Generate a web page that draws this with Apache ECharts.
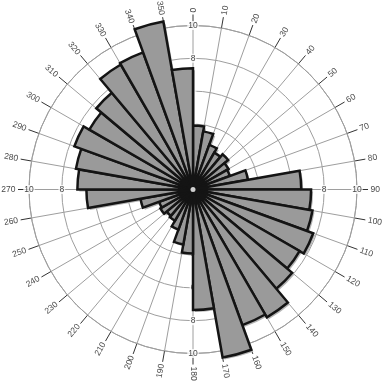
<!DOCTYPE html>
<html><head><meta charset="utf-8">
<script src="https://cdn.jsdelivr.net/npm/echarts@6/dist/echarts.min.js"></script>
<style>html,body{margin:0;padding:0;background:#fff}#c{width:384px;height:384px}</style>
</head><body><div id="c"></div>
<script>
// sector start bearings (degrees, clockwise from north), each sector is 10 degrees wide
const sectorStarts = [0,10,20,30,40,50,60,70,80,90,100,110,120,130,140,150,160,170,180,190,200,210,220,230,240,250,260,270,280,290,300,310,320,330,340,350];
const sectorValues = [3.9,3.6,2.9,2.6,2.8,2.5,2.4,3.4,6.6, 7.2,7.4,7.8,7.5,7.9,9.0,8.8,10.4,7.35, 3.9,3.4,2.6,2.2,2.1,2.3,2.2,3.25,6.5, 7.05,7.25,7.7,7.3,7.7,8.8,8.9,10.4,7.4];
const angleTickValues = [0,10,20,30,40,50,60,70,80,90,100,110,120,130,140,150,160,170,180,190,200,210,220,230,240,250,260,270,280,290,300,310,320,330,340,350];
const angleTickLabels = ['0','10','20','30','40','50','60','70','80','90','100','110','120','130','140','150','160','170','180','190','200','210','220','230','240','250','260','270','280','290','300','310','320','330','340','350'];
const ringValues = [2,4,6,8,10];
const ringLabelAngles = [0,90,180,270];
const angleLabelRadius = 10.8;

const FONT = "'Liberation Sans', Arial, sans-serif";
const C = [193, 189.5], R = 164;
const GRID = '#9e9e9e';

const angleLabelData = angleTickValues.map(function (a, i) {
  const right = a <= 180;
  return {
    name: angleTickLabels[i],
    value: [angleLabelRadius, a],
    label: { rotate: right ? 90 - a : 270 - a, position: right ? 'right' : 'left' }
  };
});
const ringLabelData = [];
ringLabelAngles.forEach(function (a) {
  ringValues.forEach(function (v) { ringLabelData.push({ name: String(v), value: [v, a] }); });
});

const hiddenAngle = function (pi) {
  return { polarIndex: pi, type: 'category', data: sectorStarts.map(String), startAngle: 90, clockwise: true,
    boundaryGap: true, axisLine: { show: false }, axisTick: { show: false }, axisLabel: { show: false }, splitLine: { show: false } };
};
const hiddenRadius = function (pi) {
  return { polarIndex: pi, type: 'value', min: 0, max: 10, axisLine: { show: false }, axisTick: { show: false },
    axisLabel: { show: false }, splitLine: { show: false } };
};

const chart = echarts.init(document.getElementById('c'), null, { renderer: 'canvas' });
chart.setOption({
  animation: false,
  backgroundColor: '#fff',
  polar: [
    { center: C, radius: R },
    { center: [C[0] + 2, C[1] + 2], radius: R },
    { center: C, radius: R }
  ],
  angleAxis: [
    { polarIndex: 0, type: 'value', min: 0, max: 360, interval: 10, startAngle: 90, clockwise: true,
      axisLine: { show: true, lineStyle: { color: GRID, width: 1 } },
      axisTick: { show: true, length: 11, lineStyle: { color: '#333', width: 1 } },
      axisLabel: { show: false },
      splitLine: { show: true, lineStyle: { color: GRID, width: 1 } } },
    hiddenAngle(1),
    hiddenAngle(2)
  ],
  radiusAxis: [
    { polarIndex: 0, type: 'value', min: 0, max: 10, interval: 2,
      axisLine: { show: false }, axisTick: { show: false }, axisLabel: { show: false },
      splitLine: { show: true, lineStyle: { color: GRID, width: 1 } } },
    hiddenRadius(1),
    hiddenRadius(2)
  ],
  series: [
    { type: 'scatter', coordinateSystem: 'polar', polarIndex: 0, z: 1, clip: false, silent: true,
      symbol: 'circle', symbolSize: 1, itemStyle: { color: 'rgba(0,0,0,0)' },
      data: ringLabelData,
      label: { show: true, position: 'inside', formatter: '{b}', fontSize: 8.5, fontFamily: FONT, color: '#111',
        backgroundColor: '#fff', padding: [0, 1] } },
    { type: 'bar', coordinateSystem: 'polar', polarIndex: 1, z: 2, clip: false, silent: true,
      barCategoryGap: '0%', data: sectorValues, itemStyle: { color: '#b4b4b4' } },
    { type: 'bar', coordinateSystem: 'polar', polarIndex: 2, z: 3, clip: false, silent: true,
      barCategoryGap: '0%', data: sectorValues,
      itemStyle: { color: '#9a9a9a', borderColor: '#141414', borderWidth: 2.5 } },
    { type: 'scatter', coordinateSystem: 'polar', polarIndex: 0, z: 4, clip: false, silent: true,
      symbol: 'circle', symbolSize: 1, itemStyle: { color: 'rgba(0,0,0,0)' },
      data: angleLabelData,
      label: { show: true, formatter: '{b}', distance: 0, fontSize: 8.5, fontFamily: FONT, color: '#111' } },
    { type: 'scatter', coordinateSystem: 'polar', polarIndex: 0, z: 5, clip: false, silent: true,
      symbol: 'circle', symbolSize: 5, itemStyle: { color: '#fff' }, data: [[0, 0]] }
  ]
});
</script></body></html>
